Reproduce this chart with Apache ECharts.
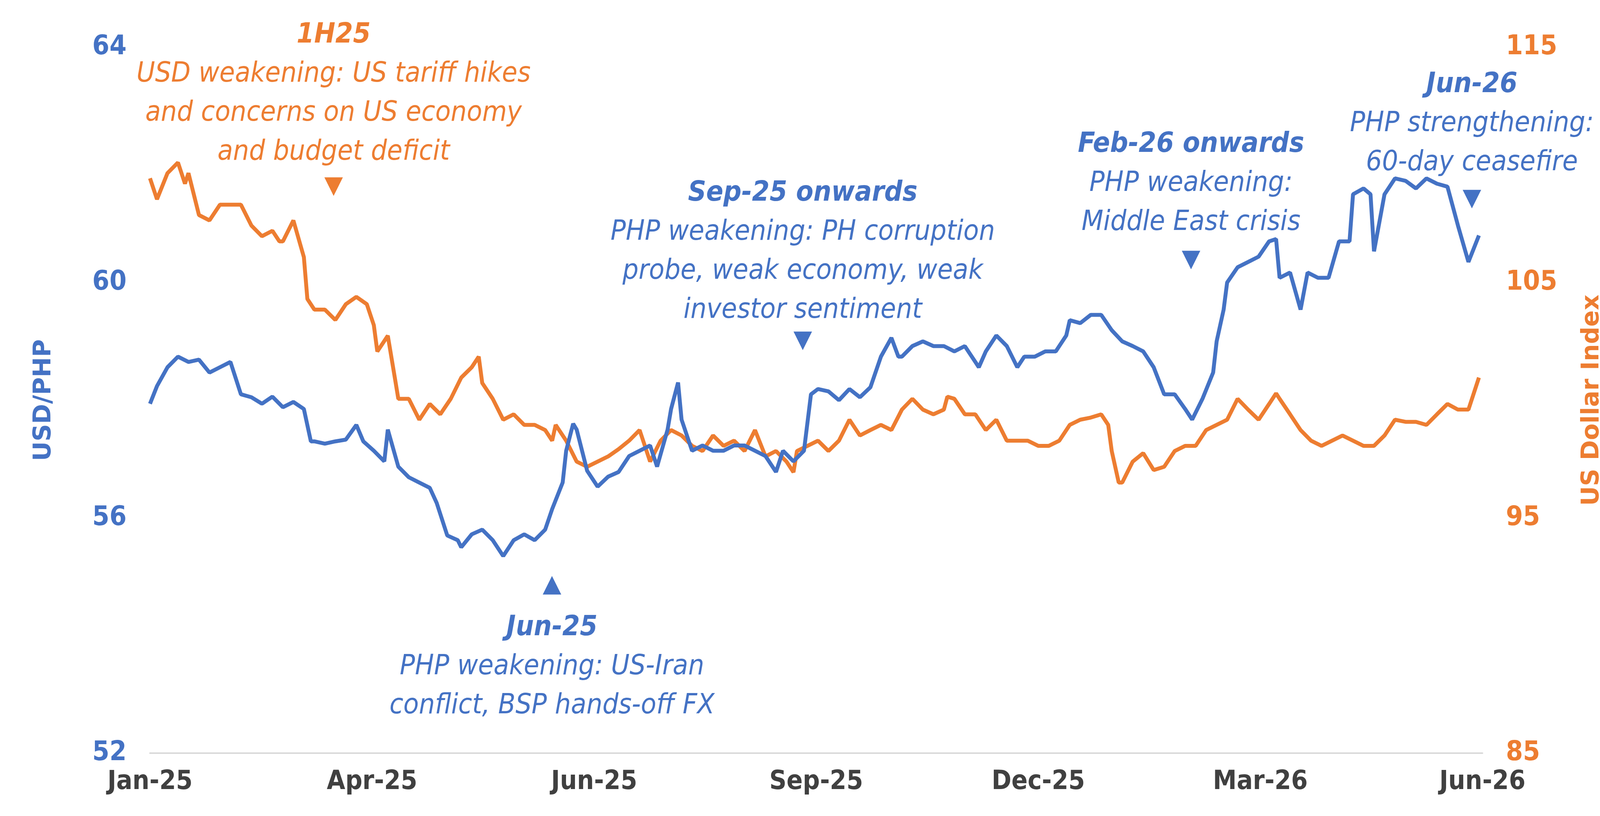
<!DOCTYPE html>
<html><head><meta charset="utf-8">
<script src="https://cdn.jsdelivr.net/npm/echarts@6/dist/echarts.min.js"></script>
<style>html,body{margin:0;padding:0;background:#fff}#root{width:4212px;height:2090px}</style>
</head><body><div id="root"></div>
<script>
// x = trading-day index from Jan-25
const xLabels = ['Jan-25', 'Apr-25', 'Jun-25', 'Sep-25', 'Dec-25', 'Mar-26', 'Jun-26']
const usdphp = [[0,57.94],[2,58.24],[5,58.56],[8,58.74],[11,58.65],[14,58.69],[17,58.47],[20,58.56],[23,58.65],[26,58.1],[29,58.05],[32,57.94],[35,58.06],[38,57.88],[41,57.97],[44,57.85],[46,57.3],[47,57.3],[50,57.26],[53,57.3],[56,57.33],[59,57.58],[61,57.3],[64,57.14],[67,56.96],[68,57.5],[71,56.87],[74,56.69],[77,56.6],[80,56.51],[82,56.25],[85,55.7],[88,55.62],[89,55.5],[92,55.72],[95,55.8],[98,55.62],[101,55.35],[104,55.62],[107,55.72],[110,55.62],[113,55.8],[115,56.15],[118,56.6],[119,57.14],[121,57.6],[122,57.5],[125,56.8],[128,56.53],[131,56.7],[134,56.78],[137,57.05],[140,57.14],[143,57.23],[145,56.87],[148,57.5],[149,57.85],[151,58.3],[152,57.67],[155,57.14],[158,57.23],[161,57.14],[164,57.14],[167,57.23],[170,57.23],[173,57.14],[176,57.05],[179,56.78],[181,57.14],[184,56.96],[187,57.14],[189,58.1],[191,58.19],[194,58.15],[197,58.0],[200,58.19],[203,58.05],[206,58.22],[209,58.74],[212,59.06],[214,58.74],[215,58.74],[218,58.92],[221,59.0],[224,58.92],[227,58.92],[230,58.83],[233,58.92],[236,58.65],[237,58.56],[239,58.83],[242,59.1],[245,58.92],[248,58.56],[250,58.74],[253,58.74],[256,58.83],[259,58.83],[262,59.1],[263,59.36],[266,59.31],[269,59.45],[272,59.45],[275,59.19],[278,59.0],[281,58.92],[284,58.83],[287,58.56],[290,58.1],[293,58.1],[296,57.85],[298,57.67],[301,58.03],[304,58.47],[305,59.0],[307,59.54],[308,60.0],[311,60.26],[314,60.35],[317,60.44],[320,60.7],[322,60.74],[323,60.08],[326,60.17],[329,59.54],[331,60.17],[334,60.08],[337,60.08],[340,60.7],[343,60.7],[344,61.5],[347,61.6],[349,61.5],[350,60.53],[353,61.5],[356,61.77],[359,61.73],[362,61.6],[365,61.77],[368,61.68],[371,61.63],[374,60.97],[377,60.35],[380,60.8]]
const dxy = [[0,109.43],[2,108.54],[5,109.65],[8,110.1],[10,109.2],[11,109.65],[14,107.87],[17,107.64],[20,108.31],[23,108.31],[26,108.31],[29,107.42],[32,106.97],[35,107.2],[37,106.75],[38,106.75],[41,107.64],[44,106.08],[45,104.3],[47,103.85],[50,103.85],[53,103.41],[56,104.08],[59,104.39],[62,104.08],[64,103.19],[65,102.07],[68,102.74],[70,100.96],[71,100.06],[74,100.06],[77,99.17],[80,99.84],[83,99.4],[86,100.06],[89,100.96],[92,101.4],[94,101.85],[95,100.73],[98,100.06],[101,99.17],[104,99.4],[107,98.95],[110,98.95],[113,98.73],[115,98.28],[116,98.95],[119,98.28],[122,97.39],[125,97.17],[128,97.39],[131,97.61],[134,97.92],[137,98.28],[140,98.73],[143,97.39],[146,98.28],[149,98.73],[152,98.5],[155,98.06],[158,97.84],[161,98.5],[164,98.06],[167,98.28],[170,97.84],[173,98.73],[176,97.61],[179,97.84],[182,97.39],[184,96.94],[185,97.84],[188,98.06],[191,98.28],[194,97.84],[197,98.28],[200,99.17],[203,98.5],[206,98.73],[209,98.95],[212,98.73],[215,99.6],[218,100.06],[221,99.6],[224,99.4],[227,99.6],[228,100.15],[230,100.06],[233,99.4],[236,99.4],[239,98.73],[242,99.17],[245,98.28],[248,98.28],[251,98.28],[254,98.06],[257,98.06],[260,98.28],[263,98.95],[266,99.17],[269,99.26],[272,99.4],[274,98.95],[275,97.84],[277,96.5],[278,96.5],[281,97.39],[284,97.75],[287,97.03],[290,97.17],[293,97.84],[296,98.06],[299,98.06],[302,98.73],[305,98.95],[308,99.17],[311,100.06],[314,99.6],[317,99.17],[320,99.84],[322,100.29],[323,100.06],[326,99.4],[329,98.73],[332,98.28],[335,98.06],[338,98.28],[341,98.5],[344,98.28],[347,98.06],[350,98.06],[353,98.5],[356,99.17],[359,99.08],[362,99.08],[365,98.95],[368,99.4],[371,99.84],[374,99.6],[377,99.6],[380,100.96]]

const BLUE = '#4472C4', ORANGE = '#ED7D31'
const FONT = '"Liberation Sans Narrow","DejaVu Sans Condensed",sans-serif'
const chart = echarts.init(document.getElementById('root'))

function note(cx, top, color, title, lines) {
  return {
    type: 'text', x: cx, y: top,
    style: {
      text: '{t|' + title + '}\n' + lines.join('\n'),
      align: 'center', verticalAlign: 'top',
      fill: color, font: 'italic 72px ' + FONT, lineHeight: 100,
      rich: { t: { fontWeight: 'bold', fontStyle: 'italic', fontSize: 72, fontFamily: FONT, fill: color, lineHeight: 100 } }
    }
  }
}
function tri(cx, cy, color, glyph) {
  return { type: 'text', x: cx, y: cy, style: { text: glyph, align: 'center', verticalAlign: 'middle', fill: color, font: '62px "DejaVu Sans"' } }
}

chart.setOption({
  animation: false,
  grid: { left: 384, right: 417, top: 121, bottom: 161 },
  xAxis: {
    type: 'value', min: 0, max: 381, interval: 63.5,
    splitLine: { show: false },
    axisLine: { lineStyle: { color: '#d9d9d9', width: 4 } },
    axisTick: { show: false },
    axisLabel: {
      margin: 40, fontSize: 68, fontWeight: 'bold', color: '#404040', fontFamily: FONT,
      formatter: v => xLabels[Math.round(v / 63.5)] || ''
    }
  },
  yAxis: [{
    type: 'value', min: 52, max: 64, interval: 4,
    name: 'USD/PHP', nameLocation: 'middle', nameGap: 240, nameRotate: 90,
    nameTextStyle: { color: BLUE, fontSize: 62, fontWeight: 'bold', fontFamily: 'DejaVu Sans' },
    splitLine: { show: false }, axisLine: { show: false }, axisTick: { show: false },
    axisLabel: { margin: 60, fontSize: 70, fontWeight: 'bold', color: BLUE, fontFamily: FONT }
  }, {
    type: 'value', min: 85, max: 115, interval: 10,
    name: 'US Dollar Index', nameLocation: 'middle', nameGap: 250, nameRotate: 90,
    nameTextStyle: { color: ORANGE, fontSize: 62, fontWeight: 'bold', fontFamily: 'DejaVu Sans' },
    splitLine: { show: false }, axisLine: { show: false }, axisTick: { show: false },
    axisLabel: { margin: 60, fontSize: 70, fontWeight: 'bold', color: ORANGE, fontFamily: FONT }
  }],
  series: [
    { type: 'line', name: 'DXY', yAxisIndex: 1, data: dxy, showSymbol: false, lineStyle: { color: ORANGE, width: 10 } },
    { type: 'line', name: 'USD/PHP', yAxisIndex: 0, data: usdphp, showSymbol: false, lineStyle: { color: BLUE, width: 10 } }
  ],
  graphic: [
    note(854, 40, ORANGE, '1H25', ['USD weakening: US tariff hikes', 'and concerns on US economy', 'and budget deficit']),
    tri(854, 478, ORANGE, '▼'),
    note(2055, 445, BLUE, 'Sep-25 onwards', ['PHP weakening: PH corruption', 'probe, weak economy, weak', 'investor sentiment']),
    tri(2055, 873, BLUE, '▼'),
    note(3049, 320, BLUE, 'Feb-26 onwards', ['PHP weakening:', 'Middle East crisis']),
    tri(3049, 666, BLUE, '▼'),
    note(3768, 167, BLUE, 'Jun-26', ['PHP strengthening:', '60-day ceasefire']),
    tri(3768, 510, BLUE, '▼'),
    tri(1413, 1499, BLUE, '▲'),
    note(1413, 1558, BLUE, 'Jun-25', ['PHP weakening: US-Iran', 'conflict, BSP hands-off FX'])
  ]
})
</script></body></html>
